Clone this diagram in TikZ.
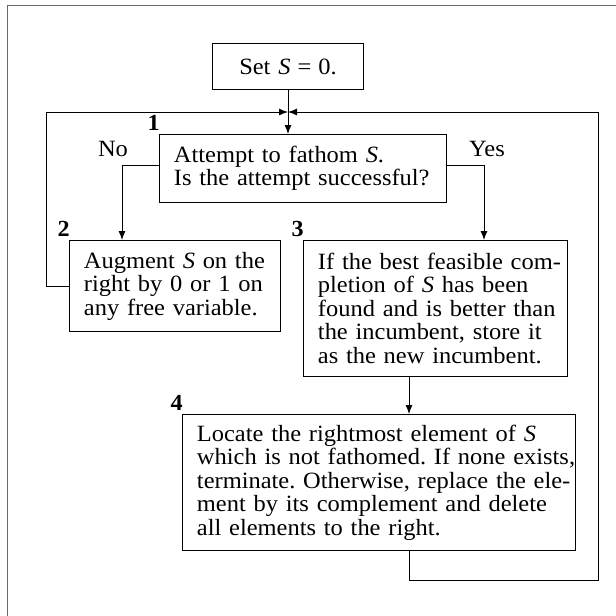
\documentclass[tikz,border=0pt]{standalone}
\usepackage{fontspec}
\setmainfont{Liberation Serif}[FakeStretch=1.05]
\usetikzlibrary{arrows.meta,calc}
\newcommand{\rln}[1]{\mbox{#1}}
\frenchspacing
\begin{document}
\begin{tikzpicture}[x=1pt,y=-1pt,
  every node/.style={font=\fontsize{23.3}{23.5}\selectfont},
  box/.style={draw, line width=0.9pt, anchor=north west, inner ysep=0pt,
    inner xsep=14.5pt, align=left},
  numlbl/.style={font=\fontsize{23}{23}\selectfont\bfseries, anchor=base east, inner sep=0pt},
  conn/.style={line width=0.9pt},
  arr/.style={conn, -{Latex[length=9pt,width=7pt]}}]
\useasboundingbox (0,0) rectangle (616,616);
% outer frame
\draw[color={rgb,255:red,105;green,105;blue,105}, line width=1.5pt] (7.5,616) -- (7.5,5.5) -- (616,5.5);

\node[box, minimum width=151pt, minimum height=46pt, text width=122pt, align=center] (set) at (212,43)
  {Set \textit{S}\hspace{0.3em}=\hspace{0.3em}0.};
\node[box, minimum width=287pt, minimum height=68pt, text width=258pt] (b1) at (159,134)
  {\rln{Attempt to fathom \textit{S}.}\\\rln{Is the attempt successful?}};
\node[box, minimum width=211pt, minimum height=91pt, text width=182pt] (b2) at (69,240)
  {\rln{Augment \textit{S} on the}\\\rln{right by 0 or 1 on}\\\rln{any free variable.}};
\node[box, minimum width=264pt, minimum height=136pt, text width=235pt] (b3) at (303,240)
  {\rln{If the best feasible com-}\\\rln{pletion of \textit{S} has been}\\\rln{found and is better than}\\\rln{the incumbent, store it}\\\rln{as the new incumbent.}};
\node[box, minimum width=393pt, minimum height=136pt, text width=364pt] (b4) at (182,414)
  {\rln{Locate the rightmost element of \textit{S}}\\\rln{which is not fathomed. If none exists,}\\\rln{terminate. Otherwise, replace the ele-}\\\rln{ment by its complement and delete}\\\rln{all elements to the right.}};

\node[numlbl] (n1) at ($(b1.north west)+(1,-4)$) {1};
\node[numlbl] (n2) at ($(b2.north west)+(1,-4)$) {2};
\node[numlbl] (n3) at ($(b3.north west)+(1,-4)$) {3};
\node[numlbl] (n4) at ($(b4.north west)+(1,-4)$) {4};

\node (no) at (113,149) {No};
\node (yes) at (487,149) {Yes};

\coordinate (jn) at (288,112);
\coordinate (lx) at (46,0);
\coordinate (rx) at (598,0);
\coordinate (noX) at (122,0);
\coordinate (yesX) at (484,0);
\coordinate (c34) at (409,0);
\coordinate (bot) at (0,580);

\draw[conn] (set.south -| jn) -- (jn);
\draw[arr] (jn) -- (b1.north -| jn);
\draw[arr] (b2.west) -- (b2.west -| lx) -- (jn -| lx) -- (jn);
\draw[arr] (b4.south -| c34) -- (bot -| c34) -- (bot -| rx) -- (jn -| rx) -- (jn);
\draw[arr] ([yshift=3pt]b1.west) -| (b2.north -| noX);
\draw[arr] ([yshift=3pt]b1.east) -| (b3.north -| yesX);
\draw[arr] (b3.south -| c34) -- (b4.north -| c34);
\end{tikzpicture}
\end{document}
